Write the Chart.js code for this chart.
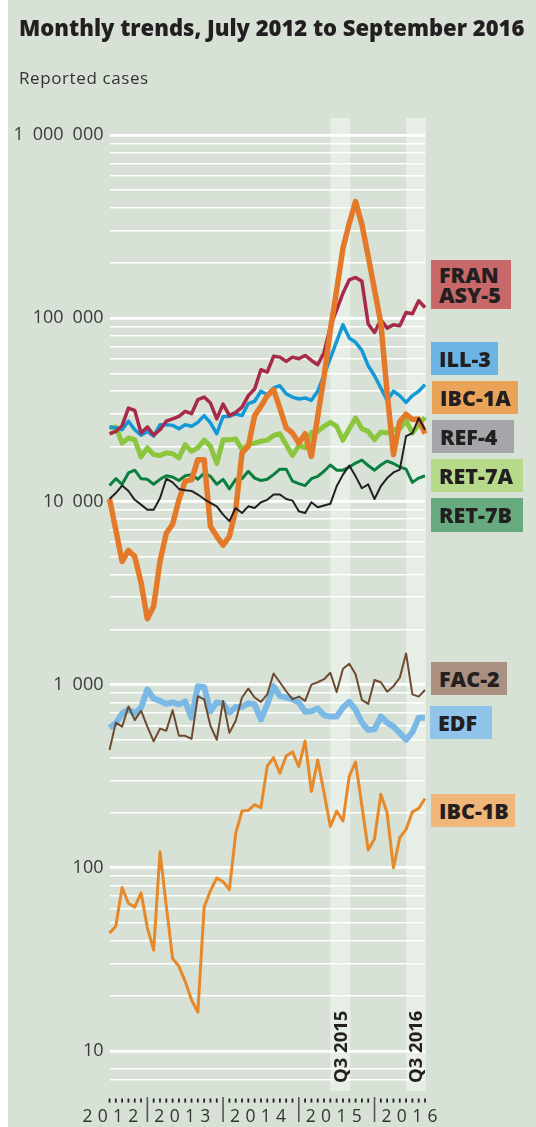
<!DOCTYPE html>
<html>
<head>
<meta charset="utf-8">
<script src="https://cdn.jsdelivr.net/npm/chart.js@4.4.1/dist/chart.umd.min.js"></script>
<style>
  html, body { margin: 0; padding: 0; background: #fff; }
  body { width: 536px; height: 1127px; position: relative; overflow: hidden; font-family: "Open Sans", sans-serif; }
  #panel { position: absolute; left: 8px; top: 0; width: 528px; height: 1127px; background: #d7e1d6; }
  #chart { position: absolute; left: 0; top: 0; }
  .title { position: absolute; left: 19px; top: 12.4px; font-weight: 800; font-size: 22px; color: #231f20; white-space: nowrap; }
  .sub { position: absolute; left: 19px; top: 65.6px; font-size: 17px; letter-spacing: 0.6px; color: #333; white-space: nowrap; }
  .tag { position: absolute; box-sizing: border-box; padding-left: 8px; display: flex; align-items: center;
         font-weight: 800; font-size: 21.5px; line-height: 19.5px; color: #231f20; white-space: nowrap; }
</style>
</head>
<body>
<div id="panel"></div>
<canvas id="chart" width="536" height="1127"></canvas>
<div class="title">Monthly trends, July 2012 to September 2016</div>
<div class="sub">Reported cases</div>

<div class="tag" style="left:431px;top:260px;width:80px;height:49px;background:#c86868">FRAN<br>ASY-5</div>
<div class="tag" style="left:431px;top:342px;width:67px;height:33px;background:#6cb4e4">ILL-3</div>
<div class="tag" style="left:432px;top:381px;width:86px;height:33px;background:#eaa45a">IBC-1A</div>
<div class="tag" style="left:432px;top:420px;width:82px;height:33px;background:#a6a6aa">REF-4</div>
<div class="tag" style="left:431px;top:459px;width:92px;height:33px;background:#b7da8a">RET-7A</div>
<div class="tag" style="left:431px;top:498px;width:92px;height:34px;background:#68aa80">RET-7B</div>
<div class="tag" style="left:431px;top:662px;width:76px;height:33px;background:#aa9080">FAC-2</div>
<div class="tag" style="left:430px;top:706px;width:62px;height:33px;background:#90c4ea">EDF</div>
<div class="tag" style="left:431px;top:794px;width:84px;height:33px;background:#f0b67a">IBC-1B</div>

<script>
// months, July 2012 .. September 2016
var months = [
  '2012-07','2012-08','2012-09','2012-10','2012-11','2012-12',
  '2013-01','2013-02','2013-03','2013-04','2013-05','2013-06','2013-07','2013-08','2013-09','2013-10','2013-11','2013-12',
  '2014-01','2014-02','2014-03','2014-04','2014-05','2014-06','2014-07','2014-08','2014-09','2014-10','2014-11','2014-12',
  '2015-01','2015-02','2015-03','2015-04','2015-05','2015-06','2015-07','2015-08','2015-09','2015-10','2015-11','2015-12',
  '2016-01','2016-02','2016-03','2016-04','2016-05','2016-06','2016-07','2016-08','2016-09'
];

var ibc1a = [10300, 7000, 4700, 5400, 5000, 3600, 2290, 2680, 4700, 6700, 7500, 10200, 12900, 13100, 16900, 16900,
  7300, 6450, 5770, 6450, 9000, 18400, 20000, 29400, 33000, 37700, 40700, 32300, 25200, 23600, 20800, 23400,
  17600, 29100, 48100, 86400, 142000, 241000, 330000, 433000, 325000, 217000, 143000, 94000, 39000, 18000,
  27300, 29900, 28000, 28200, 23400];
var fran = [23400, 24100, 25900, 32300, 31400, 23600, 25500, 23000, 24600, 27400, 28200, 29100, 31000, 30100, 35900,
  37100, 34400, 28200, 34000, 29400, 30600, 32700, 37800, 41100, 52300, 50800, 61900, 61300, 58100, 61300, 60100,
  62600, 58800, 55700, 65000, 90000, 111000, 137000, 162000, 167000, 159000, 93000, 83600, 98000, 88300, 92100,
  90900, 107500, 105700, 124400, 114400];
var ill3 = [25500, 25200, 24600, 27400, 24600, 23000, 24100, 22700, 26200, 26200, 26000, 24900, 26200, 25700, 27000,
  29400, 26800, 23400, 29100, 29100, 30000, 29400, 34200, 35200, 39900, 38200, 41600, 42800, 38700, 37100, 36200,
  36700, 35600, 39900, 49100, 60600, 74700, 92100, 77900, 73800, 66700, 55000, 48500, 41600, 35600, 39900, 37800,
  34700, 37800, 39900, 43400];
var ref4 = [10300, 11100, 12200, 11400, 10200, 9600, 9000, 9000, 10400, 13300, 12700, 11700, 11500, 11400, 10900,
  10300, 9800, 9400, 8470, 7800, 9200, 8650, 9400, 9200, 9900, 10200, 10900, 10900, 10300, 10100, 8840, 8650, 9900,
  9300, 9500, 9700, 12100, 14000, 15700, 13700, 11800, 12400, 10300, 12100, 13400, 14400, 14900, 22700, 23600,
  28500, 24600];
var ret7a = [25200, 25500, 20800, 22200, 21700, 17500, 19600, 18000, 17800, 18400, 18200, 17300, 20400, 18800, 19600,
  21600, 20000, 16100, 21700, 21700, 21900, 19200, 20400, 20800, 21300, 21600, 22900, 23400, 20400, 17800, 20200,
  19600, 23800, 24100, 25700, 27000, 25700, 21600, 24900, 28500, 24900, 24100, 21700, 23900, 23600, 24600, 24900,
  27700, 23600, 26200, 28800];
var ret7b = [12200, 13300, 12400, 14300, 14800, 13300, 13200, 12400, 13200, 13800, 13600, 13000, 13800, 14000, 13200,
  14300, 13700, 12400, 13200, 11700, 13200, 13300, 14600, 13400, 13000, 13200, 14000, 15000, 15000, 12900, 12500,
  12200, 13300, 13700, 14600, 15800, 14800, 14800, 15400, 16200, 16800, 15700, 14800, 15800, 16600, 16100, 15400,
  15000, 12700, 13400, 13800];
var fac2 = [440, 620, 590, 760, 640, 720, 590, 490, 575, 560, 725, 525, 525, 505, 865, 830, 595, 500, 815, 545, 635,
  850, 950, 850, 805, 885, 1150, 1030, 920, 830, 860, 815, 1000, 1030, 1070, 1160, 910, 1220, 1300, 1140, 825, 785,
  1060, 1030, 915, 980, 1090, 1480, 885, 860, 935];
var edf = [580, 615, 695, 730, 695, 750, 940, 840, 815, 785, 800, 780, 810, 660, 980, 970, 715, 800, 790, 705, 755,
  755, 790, 780, 645, 780, 980, 865, 850, 830, 800, 710, 715, 740, 680, 670, 670, 750, 805, 730, 620, 565, 570, 670,
  620, 590, 545, 500, 550, 660, 660];
var ibc1b = [44, 48, 78, 64, 61, 73, 47, 35.5, 122, 62, 32, 29, 24, 19, 16.3, 61, 75, 88, 84, 76, 154, 204, 206, 221,
  213, 359, 399, 328, 408, 429, 357, 492, 261, 388, 257, 168, 204, 180, 317, 378, 218, 125, 144, 252, 199, 100, 146,
  162, 202, 211, 239];

// shaded quarters (month index range) and their labels
var bandFrom = [35, 47];
var bandTo = [38, 50];
var bandLabels = ['Q3 2015', 'Q3 2016'];

var yMin = 6.05, yMax = 1238000;

function isNice(v) {
  var e = Math.floor(Math.log10(v) + 1e-9);
  var s = v / Math.pow(10, e);
  return Math.abs(s - Math.round(s)) < 1e-6;
}
function isPow10(v) {
  var l = Math.log10(v);
  return Math.abs(l - Math.round(l)) < 1e-9;
}
function fmt(v) {
  return Math.round(v).toString().replace(/\B(?=(\d{3})+(?!\d))/g, '\u2002');
}

function line(label, data, color, width) {
  return {
    label: label, data: data, borderColor: color, borderWidth: width,
    pointRadius: 0, tension: 0, fill: false,
    borderJoinStyle: 'round', borderCapStyle: 'butt'
  };
}

var bandPlugin = {
  id: 'bands',
  beforeDraw: function (chart) {
    var ctx = chart.ctx, area = chart.chartArea, x = chart.scales.x;
    ctx.save();
    ctx.fillStyle = '#e7eee6';
    bandFrom.forEach(function (f, i) {
      var x0 = x.getPixelForValue(f), x1 = x.getPixelForValue(bandTo[i]) + 1;
      ctx.fillRect(x0, area.top, x1 - x0, area.bottom - area.top);
    });
    ctx.restore();
  },
  afterDraw: function (chart) {
    var ctx = chart.ctx, area = chart.chartArea, x = chart.scales.x;
    ctx.save();
    ctx.fillStyle = '#231f20';
    ctx.font = 'bold 18.5px "Open Sans"';
    ctx.textAlign = 'left';
    ctx.textBaseline = 'middle';
    bandFrom.forEach(function (f, i) {
      var cx = (x.getPixelForValue(f) + x.getPixelForValue(bandTo[i]) + 1) / 2;
      ctx.save();
      ctx.translate(cx + 1, area.bottom - 8);
      ctx.rotate(-Math.PI / 2);
      ctx.fillText(bandLabels[i], 0, 0);
      ctx.restore();
    });
    ctx.restore();
  }
};

var yearAxis = {
  id: 'yearAxis',
  afterDraw: function (chart) {
    var ctx = chart.ctx, area = chart.chartArea, x = chart.scales.x;
    var b = area.bottom;
    ctx.save();
    months.forEach(function (m, i) {
      var px = x.getPixelForValue(i);
      var jan = m.slice(5) === '01';
      ctx.beginPath();
      if (jan) {
        ctx.strokeStyle = '#555';
        ctx.lineWidth = 1.6;
        ctx.moveTo(px, b + 6);
        ctx.lineTo(px, b + 31);
      } else {
        ctx.strokeStyle = '#222';
        ctx.lineWidth = 1.8;
        ctx.moveTo(px, b + 7.5);
        ctx.lineTo(px, b + 11.6);
      }
      ctx.stroke();
    });

    // year labels, letter-spaced
    ctx.fillStyle = '#333';
    ctx.font = '17.5px "Open Sans"';
    ctx.textBaseline = 'alphabetic';
    var gap = 5.3;
    function spacedWidth(s) {
      var w = 0;
      for (var k = 0; k < s.length; k++) w += ctx.measureText(s[k]).width + (k ? gap : 0);
      return w;
    }
    function drawSpaced(s, left) {
      var cx = left;
      for (var k = 0; k < s.length; k++) {
        ctx.fillText(s[k], cx, b + 31);
        cx += ctx.measureText(s[k]).width + gap;
      }
    }
    var years = [];
    months.forEach(function (m) {
      var yr = m.slice(0, 4);
      if (years.indexOf(yr) < 0) years.push(yr);
    });
    years.forEach(function (yr) {
      var jan = months.indexOf(yr + '-01');
      if (jan < 0) {
        var next = months.indexOf((+yr + 1) + '-01');
        var right = x.getPixelForValue(next) - 9;
        drawSpaced(yr, right - spacedWidth(yr));
      } else {
        drawSpaced(yr, x.getPixelForValue(jan) + 7);
      }
    });
    ctx.restore();
  }
};

new Chart(document.getElementById('chart'), {
  type: 'line',
  data: {
    labels: months,
    datasets: [
      line('REF-4', ref4, '#231f20', 2),
      line('FAC-2', fac2, '#6d4a30', 2),
      line('IBC-1A', ibc1a, '#e5792a', 5.5),
      line('FRAN ASY-5', fran, '#a8294a', 3.5),
      line('ILL-3', ill3, '#1398d8', 3.5),
      line('RET-7B', ret7b, '#0b7f3f', 3),
      line('RET-7A', ret7a, '#8cc63e', 5),
      line('EDF', edf, '#7ab8e6', 6),
      line('IBC-1B', ibc1b, '#e6892a', 3)
    ]
  },
  options: {
    responsive: false,
    animation: false,
    devicePixelRatio: 1,
    layout: { padding: { top: 118, bottom: 36, right: 111, left: 0 } },
    plugins: { legend: { display: false }, tooltip: { enabled: false } },
    events: [],
    scales: {
      x: { display: false, offset: false },
      y: {
        type: 'logarithmic',
        min: yMin,
        max: yMax,
        afterFit: function (s) { s.width = 109.5; },
        border: { display: false },
        grid: {
          drawTicks: false,
          color: function (c) {
            var v = c.tick.value;
            if (!isNice(v) || v > 1000000) return 'rgba(0,0,0,0)';
            if (v >= 9 && v < 10) return 'rgba(0,0,0,0)';
            return '#ffffff';
          },
          lineWidth: function (c) {
            return isPow10(c.tick.value) ? 2.8 : 1.4;
          }
        },
        ticks: {
          autoSkip: false,
          padding: 6,
          color: '#3a3a3a',
          font: { family: 'Open Sans', size: 18 },
          callback: function (v) { return isPow10(v) ? fmt(v) : ''; }
        }
      }
    }
  },
  plugins: [bandPlugin, yearAxis]
});
</script>
</body>
</html>
